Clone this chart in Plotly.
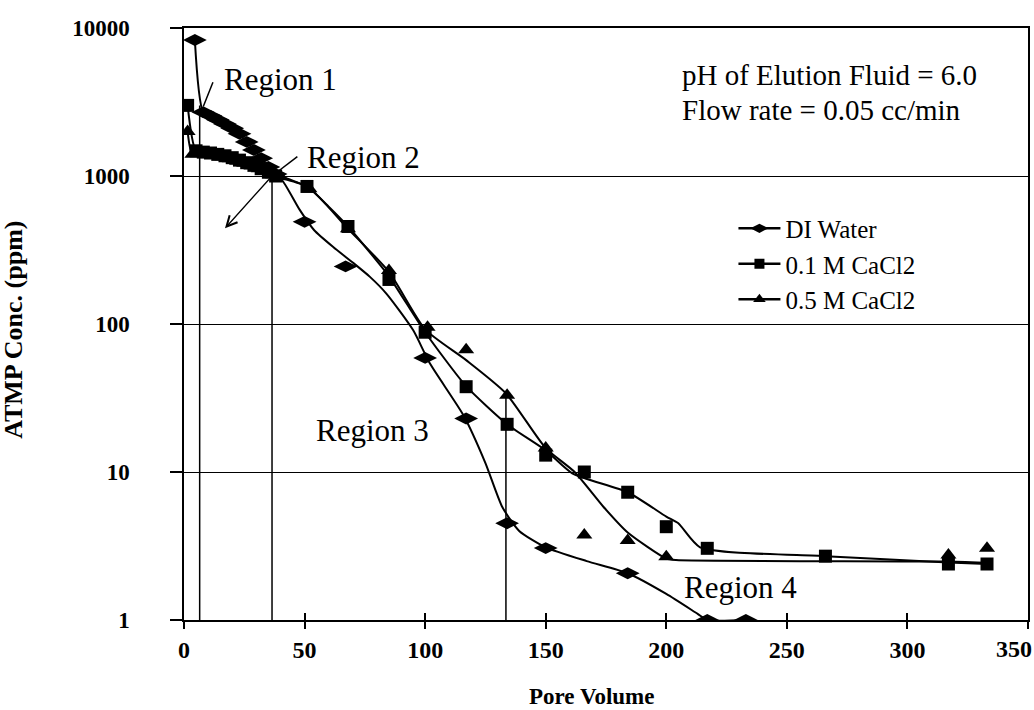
import math
import plotly.graph_objects as go

# ---------------- data ----------------
series_names = ["DI Water", "0.1 M CaCl2", "0.5 M CaCl2"]
series_symbols = ["diamond-wide", "square", "triangle-up"]
series_marker_sizes = [17, 13, 14]
legend_marker_sizes = [13, 10, 11]

# measured points (markers)
pv_di = [4.5, 8, 11, 14, 17, 20, 23, 26, 29, 32, 35, 38, 50, 67, 100, 117, 134, 150, 184, 217, 233]
c_di = [8300, 2700, 2550, 2400, 2250, 2100, 1930, 1700, 1500, 1320, 1150, 1030, 490, 245, 59, 23, 4.5, 3.06, 2.07, 1.0, 1.0]

pv_01 = [1.5, 5, 8, 11, 14, 17, 20, 23, 26, 29, 32, 35, 38, 51, 68, 85, 100, 117, 134, 150, 166, 184, 200, 217, 266, 317, 333]
c_01 = [3000, 1480, 1450, 1430, 1400, 1370, 1330, 1280, 1230, 1180, 1120, 1060, 1000, 850, 456, 200, 88, 37.7, 21, 13, 10, 7.3, 4.27, 3.05, 2.7, 2.39, 2.39]

pv_05 = [1.5, 3.5, 7, 10, 13, 16, 19, 22, 25, 28, 31, 34, 37, 40, 52, 68, 85, 101, 117, 134, 150, 166, 184, 200, 317, 333]
c_05 = [2000, 1400, 1420, 1400, 1380, 1350, 1310, 1260, 1220, 1170, 1120, 1080, 1020, 990, 820, 440, 230, 95, 67, 33, 14.5, 3.75, 3.44, 2.68, 2.75, 3.05]

# hand-drawn trend curves
curve_pv_di = [4.5, 8, 14, 20, 26, 32, 38, 41, 48, 54, 62, 70, 77, 84, 95, 102, 116, 125, 132, 139, 150, 167, 184, 200, 213, 217, 233]
curve_c_di = [8300, 2700, 2400, 2100, 1700, 1320, 1000, 920, 590, 430, 330, 260, 209, 160, 91, 54, 24, 11.5, 5.8, 4.0, 3.1, 2.5, 2.07, 1.5, 1.1, 1.0, 1.0]

curve_pv_01 = [1.5, 5, 11, 17, 23, 29, 35, 38, 45, 51, 60, 68, 76, 85, 100, 117, 134, 150, 161, 184, 200, 205, 214, 266, 317, 333]
curve_c_01 = [3000, 1480, 1430, 1370, 1280, 1180, 1060, 1000, 920, 850, 620, 456, 320, 210, 88, 38, 21, 14, 9.8, 7.3, 5.0, 4.5, 3.1, 2.7, 2.45, 2.39]

curve_pv_05 = [1.5, 3.5, 10, 16, 22, 28, 34, 40, 52, 68, 85, 100, 117, 133.5, 150, 162, 174, 184, 200, 204, 317, 335]
curve_c_05 = [2000, 1400, 1400, 1350, 1260, 1170, 1080, 1000, 830, 440, 225, 92, 57, 34, 14.5, 10, 5.8, 3.9, 2.6, 2.54, 2.48, 2.42]

# region guide lines
region_line_pv = [6.5, 36.5, 133.5]
region_line_top = [3000, 1000, 33]
region1_pointer_pv = [8, 12]
region1_pointer_c = [2950, 4300]
region2_pointer_pv = [36.5, 47]
region2_pointer_c = [1000, 1350]
region2_arrow_from = (36.5, 1000)
region2_arrow_to = (17, 443)

region_labels = ["Region 1", "Region 2", "Region 3", "Region 4"]
region_label_pv = [15.6, 50.0, 54.0, 206.5]
region_label_c = [4460, 1340, 19.2, 1.67]

info_lines = ["pH of Elution Fluid = 6.0", "Flow rate = 0.05 cc/min"]
info_pv = 205.5
info_c = [4800, 2800]

x_ticks = [0, 50, 100, 150, 200, 250, 300, 350]
x_ticktext = ["0", "50", "100", "150", "200", "250", "300", ""]  # last label drawn flush to the edge
x_last_label = "350"
y_ticks = [1, 10, 100, 1000, 10000]
y_ticktext = ["1", "10", "100", "1000", "10000"]

SERIF = "Liberation Serif, Times New Roman, serif"

fig = go.Figure()

markers = [(pv_di, c_di), (pv_01, c_01), (pv_05, c_05)]
curves = [(curve_pv_di, curve_c_di), (curve_pv_01, curve_c_01), (curve_pv_05, curve_c_05)]

for i, name in enumerate(series_names):
    cx, cy = curves[i]
    fig.add_trace(go.Scatter(x=cx, y=cy, mode="lines", showlegend=False,
                             line=dict(color="black", width=2, shape="spline", smoothing=0.6),
                             hoverinfo="skip"))
for i, name in enumerate(series_names):
    mx, my = markers[i]
    fig.add_trace(go.Scatter(x=mx, y=my, mode="markers", showlegend=False, name=name,
                             marker=dict(symbol=series_symbols[i], size=series_marker_sizes[i], color="black")))

# legend entries (line + marker)
for i, name in enumerate(series_names):
    fig.add_trace(go.Scatter(x=[None], y=[None], mode="lines+markers", name=name,
                             legendgroup=name,
                             line=dict(color="black", width=2.5),
                             marker=dict(symbol=series_symbols[i], size=legend_marker_sizes[i], color="black")))

# vertical region lines
for pv, top in zip(region_line_pv, region_line_top):
    fig.add_trace(go.Scatter(x=[pv, pv], y=[1, top], mode="lines", showlegend=False,
                             line=dict(color="black", width=1.5), hoverinfo="skip"))
fig.add_trace(go.Scatter(x=region1_pointer_pv, y=region1_pointer_c, mode="lines", showlegend=False,
                         line=dict(color="black", width=1.5), hoverinfo="skip"))
fig.add_trace(go.Scatter(x=region2_pointer_pv, y=region2_pointer_c, mode="lines", showlegend=False,
                         line=dict(color="black", width=1.5), hoverinfo="skip"))

annotations = []
annotations.append(dict(x=region2_arrow_to[0], y=math.log10(region2_arrow_to[1]),
                        ax=region2_arrow_from[0], ay=math.log10(region2_arrow_from[1]),
                        xref="x", yref="y", axref="x", ayref="y", text="",
                        showarrow=True, arrowhead=5, arrowsize=1.6, arrowwidth=1.3, arrowcolor="black"))
for lab, pv, c in zip(region_labels, region_label_pv, region_label_c):
    annotations.append(dict(x=pv, y=math.log10(c), xref="x", yref="y", text=lab, showarrow=False,
                            xanchor="left", yanchor="middle",
                            font=dict(family=SERIF, size=31, color="black")))
for txt, c in zip(info_lines, info_c):
    annotations.append(dict(x=info_pv, y=math.log10(c), xref="x", yref="y", text=txt, showarrow=False,
                            xanchor="left", yanchor="middle",
                            font=dict(family=SERIF, size=29, color="black")))
# last x tick label, kept inside the page
annotations.append(dict(x=1.0071, y=-0.049, xref="paper", yref="paper", text="<b>%s</b>" % x_last_label,
                        showarrow=False, xanchor="right", yanchor="middle",
                        font=dict(family=SERIF, size=24, color="black")))
# axis titles
annotations.append(dict(x=0.4834, y=-0.130, xref="paper", yref="paper", text="<b>Pore Volume</b>",
                        showarrow=False, xanchor="center", yanchor="middle",
                        font=dict(family=SERIF, size=23, color="black")))
annotations.append(dict(x=-0.2015, y=0.49, xref="paper", yref="paper", text="<b>ATMP Conc. (ppm)</b>",
                        showarrow=False, xanchor="center", yanchor="middle", textangle=-90,
                        font=dict(family=SERIF, size=26, color="black")))

fig.update_layout(
    width=1034, height=710,
    margin=dict(l=184, r=6, t=28, b=90),
    paper_bgcolor="white", plot_bgcolor="white",
    font=dict(family=SERIF, color="black"),
    annotations=annotations,
    legend=dict(x=0.651, y=0.70, xanchor="left", yanchor="top",
                font=dict(family=SERIF, size=25, color="black"),
                itemwidth=42,
                bgcolor="rgba(0,0,0,0)", tracegroupgap=0),
    xaxis=dict(range=[0, 350], tickvals=x_ticks, ticktext=x_ticktext, ticks="outside", ticklen=7, tickwidth=1.5,
               tickcolor="black", showline=True, linecolor="black", linewidth=1.5, mirror=True,
               showgrid=False, zeroline=False, automargin=False,
               tickfont=dict(family=SERIF, size=24, color="black", weight="bold")),
    xaxis2=dict(range=[0, 350], tickvals=x_ticks, ticks="inside", ticklen=7, tickwidth=1.5,
                tickcolor="black", overlaying="x", anchor="y", side="bottom", automargin=False,
                showticklabels=False, showgrid=False, zeroline=False, showline=False),
    yaxis=dict(type="log", range=[0, 4], tickvals=y_ticks, ticktext=y_ticktext,
               ticks="outside", ticklen=12, tickwidth=1.5, tickcolor="black",
               showline=True, linecolor="black", linewidth=1.5, mirror=True,
               showgrid=True, gridcolor="black", gridwidth=1.2, zeroline=False,
               ticklabelstandoff=36, automargin=False,
               tickfont=dict(family=SERIF, size=23, color="black", weight="bold")),
)
# an empty trace on xaxis2 so the inside ticks render
fig.add_trace(go.Scatter(x=[None], y=[None], xaxis="x2", showlegend=False, hoverinfo="skip"))

fig.write_html("out.html")
